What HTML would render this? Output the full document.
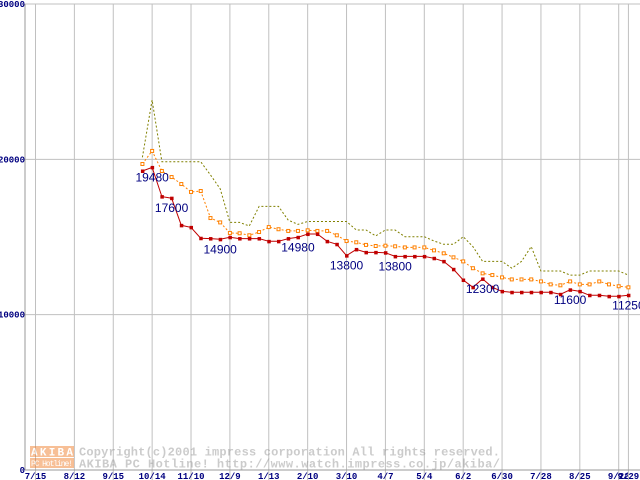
<!DOCTYPE html>
<html><head><meta charset="utf-8"><style>
body{margin:0;background:#fff}
svg{display:block}
text{font-family:"Liberation Mono","DejaVu Sans Mono",monospace}
</style></head><body>
<svg id="chart" width="640" height="480" viewBox="0 0 640 480" xmlns="http://www.w3.org/2000/svg">
<g id="grid"></g>
<g id="watermark" opacity="0.5">
  <rect x="30" y="446" width="44" height="11" fill="#f08030"/>
  <rect x="30" y="458" width="44" height="10" fill="#f08030"/>
  <text x="52" y="455.5" font-size="11" fill="#fff" text-anchor="middle" font-weight="bold" textLength="42">AKIBA</text>
  <text x="52" y="466" font-size="8" fill="#fff" text-anchor="middle" textLength="42">PC Hotline!</text>
  <text x="79" y="455.5" font-size="12" fill="#999" font-weight="bold" textLength="421">Copyright(c)2001 impress corporation All rights reserved.</text>
  <text x="79" y="467.5" font-size="12" fill="#999" font-weight="bold" textLength="421">AKIBA PC Hotline!  http://www.watch.impress.co.jp/akiba/</text>
</g>
<g id="series"></g>
<g id="labels"></g>
</svg>
<script>
const xLabels=["7/15","8/12","9/15","10/14","11/10","12/9","1/13","2/10","3/10","4/7","5/4","6/2","6/30","7/28","8/25","9/22","9/29"];
const yTicks=[0,10000,20000,30000];
const startIdx=11;
const minPrice=[19250,19480,17600,17500,15750,15620,14920,14900,14850,14980,14900,14900,14900,14720,14720,14900,14980,15190,15190,14720,14530,13800,14200,14010,14010,13990,13750,13750,13750,13750,13630,13430,12920,12230,11760,12300,11760,11500,11440,11440,11440,11440,11440,11310,11600,11500,11250,11250,11180,11180,11250];
const avgPrice=[19700,20540,19250,18860,18410,17900,17960,16220,15940,15260,15240,15110,15320,15640,15500,15390,15390,15430,15390,15390,15110,14740,14660,14490,14420,14440,14400,14330,14330,14330,14140,13950,13690,13430,12990,12660,12550,12400,12270,12270,12270,12140,11950,11890,12140,11950,11950,12140,11950,11830,11760];
const maxPrice=[20130,23820,19850,19850,19850,19850,19850,18990,18100,15940,15940,15710,16970,16970,16970,16090,15810,16000,16000,16000,16000,16000,15450,15450,15070,15450,15450,15020,15020,15020,14740,14530,14530,15020,14380,13430,13430,13430,12990,13430,14380,12810,12810,12810,12550,12550,12810,12810,12810,12810,12550];
const noteIdx=[12,14,19,27,32,37,46,55,61];
const noteText=["19480","17600","14900","14980","13800","13800","12300","11600","11250"];

const NS="http://www.w3.org/2000/svg";
const X=i=>35.5+i*9.72;
const Y=v=>470-v*466/30000;
function el(tag,attrs,parent){const e=document.createElementNS(NS,tag);for(const k in attrs)e.setAttribute(k,attrs[k]);parent.appendChild(e);return e;}
const grid=document.getElementById('grid');
yTicks.forEach(t=>{
  if(t>0){const l=el('line',{x1:25,x2:640,y1:Y(t),y2:Y(t),stroke:'#c0c0c0','stroke-width':1},grid);
  
  }
  const ty=t===30000?Y(t)+3:Y(t)+3;
  const tx=el('text',{x:25,y:ty,'font-size':9,fill:'#000080','text-anchor':'end','font-weight':'bold'},grid);
  tx.textContent=String(t);
  
  
});
xLabels.forEach((s,k)=>{
  const i=k<16?k*4:61;
  const l=el('line',{x1:X(i),x2:X(i),y1:4,y2:480,stroke:'#c0c0c0','stroke-width':1},grid);
  
  
  const tx=el('text',{x:X(i),y:479,'font-size':9,fill:'#000080','text-anchor':'middle','font-weight':'bold'},grid);
  tx.textContent=s;
  
  
});
const ax=el('line',{x1:25,x2:25,y1:4,y2:470,stroke:'#999','stroke-width':1},grid);


const bx=el('line',{x1:25,x2:640,y1:470,y2:470,stroke:'#999','stroke-width':1},grid);



const sg=document.getElementById('series');
function pts(arr){return arr.map((v,k)=>X(k+startIdx).toFixed(1)+','+Y(v).toFixed(1)).join(' ');}
const pMax=el('polyline',{points:pts(maxPrice),fill:'none',stroke:'#808000','stroke-width':1,'stroke-dasharray':'2,2'},sg);


const pAvg=el('polyline',{points:pts(avgPrice),fill:'none',stroke:'#ff8000','stroke-width':1,'stroke-dasharray':'2,2'},sg);


avgPrice.forEach((v,k)=>{
  const r=el('rect',{x:X(k+startIdx)-1.5,y:Y(v)-1.5,width:3,height:3,fill:'#fff',stroke:'#ff8000','stroke-width':1},sg);
  
  
});
const pMin=el('polyline',{points:pts(minPrice),fill:'none',stroke:'#c00000','stroke-width':1},sg);


minPrice.forEach((v,k)=>{
  const r=el('rect',{x:X(k+startIdx)-1.5,y:Y(v)-1.5,width:3.5,height:3.5,fill:'#c00000'},sg);
  
  
});
const lg=document.getElementById('labels');
noteIdx.forEach((i,k)=>{
  const v=minPrice[i-startIdx];
  const tx=el('text',{x:X(i),y:Y(v)+14,'font-size':12,fill:'#000080','text-anchor':'middle',style:'font-family:"Liberation Sans",sans-serif'},lg);
  tx.textContent=noteText[k];
  
  
});
</script>
</body></html>
